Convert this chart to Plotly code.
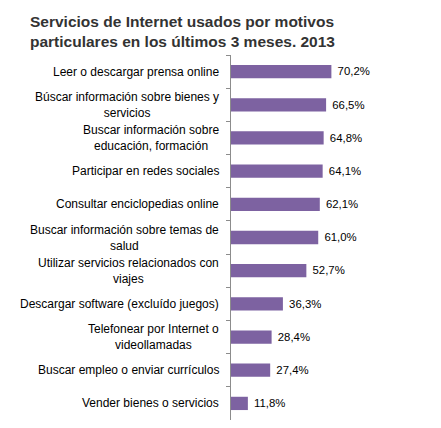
import plotly.graph_objects as go

categorias = [
    "Leer o descargar prensa online",
    "Búscar información sobre bienes y<br>servicios",
    "Buscar información sobre<br>educación, formación",
    "Participar en redes sociales",
    "Consultar enciclopedias online",
    "Buscar información sobre temas de<br>salud",
    "Utilizar servicios relacionados con<br>viajes",
    "Descargar software (excluído juegos)",
    "Telefonear por Internet o<br>videollamadas",
    "Buscar empleo o enviar currículos",
    "Vender bienes o servicios",
]
porcentajes = [70.2, 66.5, 64.8, 64.1, 62.1, 61.0, 52.7, 36.3, 28.4, 27.4, 11.8]

titulo = "Servicios de Internet usados por motivos<br>particulares en los últimos 3 meses. 2013"

etiquetas = [" " + f"{v:.1f}".replace(".", ",") + "%" for v in porcentajes]

# la pagina html deja 8px de margen en el body, se compensa aqui
W, H = 441, 428
ml, mr, mt, mb = 223, 75, 47, 16
plot_w = W - ml - mr
plot_h = H - mt - mb

fig = go.Figure()
fig.add_trace(go.Bar(
    x=porcentajes,
    y=categorias,
    orientation="h",
    marker=dict(color="#7d62a1", line=dict(width=0)),
    width=0.4,
    text=etiquetas,
    textposition="outside",
    textfont=dict(family="Liberation Sans, Arial", size=12, color="#000000"),
    cliponaxis=False,
))

# etiquetas de categoria centradas (como en Excel)
for c in categorias:
    fig.add_annotation(
        x=-10 / plot_w, xref="paper", xanchor="right",
        y=c, yref="y",
        text=c, showarrow=False, align="center",
        font=dict(family="Liberation Sans, Arial", size=12, color="#000000"),
    )

# titulo
fig.add_annotation(
    x=(20 - ml) / plot_w, xref="paper", xanchor="left",
    y=1 + (mt - 3) / plot_h, yref="paper", yanchor="top",
    text="<b>" + titulo + "</b>", showarrow=False, align="left",
    font=dict(family="Liberation Sans, Arial", size=15.5, color="#333333"),
)

fig.update_layout(
    width=W, height=H,
    margin=dict(l=ml, r=mr, t=mt, b=mb, autoexpand=False),
    paper_bgcolor="white",
    plot_bgcolor="white",
    showlegend=False,
    xaxis=dict(range=[0, 100], visible=False, fixedrange=True),
    yaxis=dict(
        autorange="reversed",
        automargin=False,
        showticklabels=False,
        showline=True, linecolor="#8c8c8c", linewidth=1,
        ticks="outside", tickson="boundaries", ticklen=4, tickcolor="#8c8c8c",
        showgrid=False, zeroline=False,
    ),
)

fig.write_html("out.html")
